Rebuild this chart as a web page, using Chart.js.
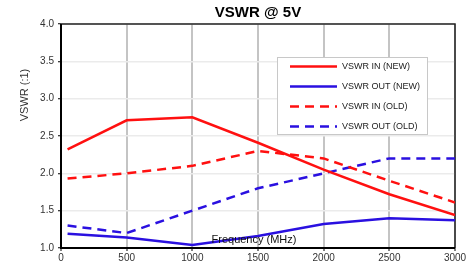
<!DOCTYPE html>
<html><head><meta charset="utf-8">
<script src="https://cdn.jsdelivr.net/npm/chart.js@4/dist/chart.umd.min.js"></script>
<style>html,body{margin:0;padding:0;background:#fff}#wrap{width:476px;height:263px}</style>
</head><body><div id="wrap"><canvas id="c" width="476" height="263"></canvas></div>
<script>
const freqs = [50, 500, 1000, 1500, 2000, 2500, 3000];
const vswrInNew = [2.32, 2.71, 2.75, 2.41, 2.05, 1.72, 1.44];
const vswrOutNew = [1.19, 1.14, 1.04, 1.16, 1.32, 1.40, 1.37];
const vswrInOld = [1.93, 2.00, 2.10, 2.30, 2.20, 1.90, 1.61];
const vswrOutOld = [1.30, 1.20, 1.50, 1.80, 2.00, 2.20, 2.20];
const seriesLabels = ['VSWR IN (NEW)', 'VSWR OUT (NEW)', 'VSWR IN (OLD)', 'VSWR OUT (OLD)'];
const xTicks = [0, 500, 1000, 1500, 2000, 2500, 3000];
const yTicks = [1.0, 1.5, 2.0, 2.5, 3.0, 3.5, 4.0];

const RED = '#ff1010', BLUE = '#2a10e0';
const FONT = 'Liberation Sans, Arial, sans-serif';
function pts(v){ return freqs.map((f,i)=>({x:f,y:v[i]})); }
function ds(label, v, color, dash){
  return {label, data: pts(v), borderColor: color, backgroundColor: color, borderWidth: 2.5,
    borderDash: dash, pointRadius: 0, tension: 0, fill: false};
}

const decor = {
  id: 'decor',
  beforeDatasetsDraw(chart){
    const a = chart.chartArea, ctx = chart.ctx;
    ctx.save();
    ctx.strokeStyle = '#222'; ctx.lineWidth = 1.5;
    ctx.beginPath(); ctx.moveTo(a.left, a.top); ctx.lineTo(a.right, a.top); ctx.lineTo(a.right, a.bottom); ctx.stroke();
    ctx.restore();
  },
  afterDatasetsDraw(chart){
    const a = chart.chartArea, ctx = chart.ctx;
    ctx.save();
    ctx.strokeStyle = '#000'; ctx.lineWidth = 2;
    ctx.beginPath(); ctx.moveTo(a.left, a.top); ctx.lineTo(a.left, a.bottom); ctx.lineTo(a.right, a.bottom); ctx.stroke();
    ctx.fillStyle = '#000'; ctx.font = 'bold 15px ' + FONT; ctx.textAlign = 'center'; ctx.textBaseline = 'middle';
    ctx.fillText('VSWR @ 5V', (a.left + a.right) / 2, 13);
    ctx.font = '11px ' + FONT; ctx.fillStyle = '#111';
    ctx.fillText('Frequency (MHz)', 254, 240);
    ctx.save(); ctx.translate(25, 95); ctx.rotate(-Math.PI/2); ctx.fillStyle = '#333';
    ctx.fillText('VSWR (:1)', 0, 0); ctx.restore();
    const lx = 277, ly = 57, lw = 150, lh = 77;
    ctx.fillStyle = '#fff'; ctx.fillRect(lx, ly, lw, lh);
    ctx.strokeStyle = '#c8c8c8'; ctx.lineWidth = 1; ctx.strokeRect(lx + 0.5, ly + 0.5, lw, lh);
    ctx.font = '9px ' + FONT; ctx.textAlign = 'left'; ctx.fillStyle = '#222';
    chart.data.datasets.forEach((d, i) => {
      const y = ly + 9.5 + i * 20;
      ctx.save(); ctx.strokeStyle = d.borderColor; ctx.lineWidth = 2.5; ctx.setLineDash(d.borderDash || []);
      ctx.beginPath(); ctx.moveTo(290, y); ctx.lineTo(337, y); ctx.stroke(); ctx.restore();
      ctx.fillText(d.label, 342, y);
    });
    ctx.restore();
  }
};

new Chart(document.getElementById('c'), {
  type: 'line',
  data: { datasets: [
    ds(seriesLabels[0], vswrInNew, RED, []),
    ds(seriesLabels[1], vswrOutNew, BLUE, []),
    ds(seriesLabels[2], vswrInOld, RED, [9, 6]),
    ds(seriesLabels[3], vswrOutOld, BLUE, [9, 6])
  ]},
  options: {
    responsive: false, animation: false, devicePixelRatio: 1,
    layout: { padding: { top: 24, right: 21, left: 0, bottom: 0 } },
    plugins: { legend: { display: false }, tooltip: { enabled: false }, title: { display: false } },
    scales: {
      x: {
        type: 'linear', min: 0, max: 3000,
        afterBuildTicks(s){ s.ticks = xTicks.map(v => ({value: v})); },
        afterFit(s){ s.height = 15; },
        ticks: { color: '#333', font: { size: 10, family: FONT }, padding: 1, maxRotation: 0, autoSkip: false,
                 callback: v => String(v) },
        grid: { color: '#c4c4c4', lineWidth: 2, drawTicks: true, tickLength: 3, tickColor: '#000', tickWidth: 1 },
        border: { display: false }
      },
      y: {
        min: 1, max: 4,
        afterBuildTicks(s){ s.ticks = yTicks.map(v => ({value: v})); },
        afterFit(s){ s.width = 61; },
        ticks: { color: '#333', font: { size: 10, family: FONT }, padding: 4, callback: v => Number(v).toFixed(1) },
        grid: { color: '#ebebeb', lineWidth: 1.5, drawTicks: true, tickLength: 3, tickColor: '#000', tickWidth: 1 },
        border: { display: false }
      }
    }
  },
  plugins: [decor]
});
</script></body></html>
